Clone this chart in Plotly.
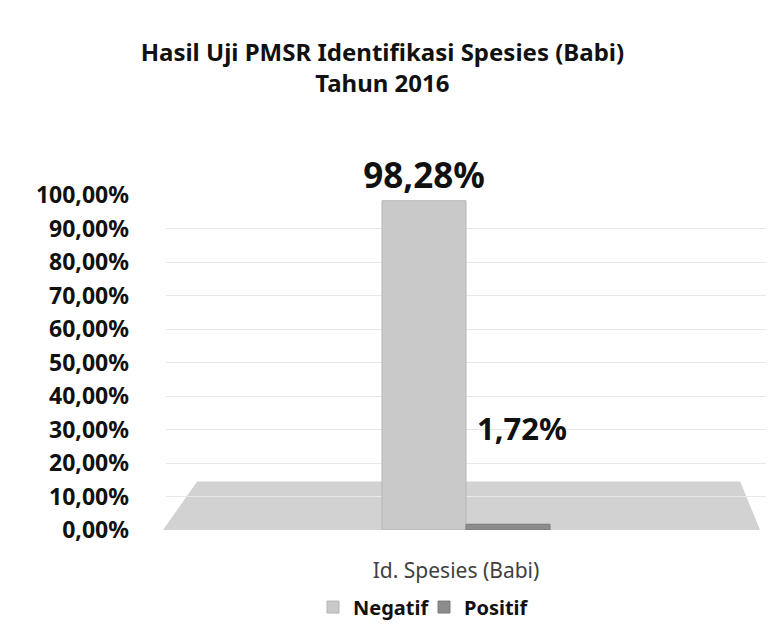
import plotly.graph_objects as go

# data
category = ["Id. Spesies (Babi)"]
negatif = [98.28]
positif = [1.72]
tick_vals = [0, 10, 20, 30, 40, 50, 60, 70, 80, 90, 100]
tick_text = [f"{v:.2f}%".replace(".", ",") for v in tick_vals]

FONT = "Noto Sans"

fig = go.Figure()

fig.add_trace(
    go.Bar(
        x=category,
        y=negatif,
        name="Negatif",
        marker=dict(color="#c9c9c9", line=dict(width=1, color="#b5b5b5")),
        text=[f"{v:.2f}%".replace(".", ",") for v in negatif],
        textposition="outside",
        textfont=dict(family=FONT, size=35, color="#111111", weight="bold"),
        constraintext="none",
        cliponaxis=False,
    )
)

fig.add_trace(
    go.Bar(
        x=category,
        y=positif,
        name="Positif",
        marker=dict(color="#8c8c8c", line=dict(width=1, color="#7a7a7a")),
        cliponaxis=False,
    )
)

# positif label sits above the floor, like in the 3D original
fig.add_annotation(
    x=category[0],
    y=positif[0],
    text=f"{positif[0]:.2f}%".replace(".", ","),
    showarrow=False,
    xshift=56,
    yshift=96,
    font=dict(family=FONT, size=31, color="#111111", weight="bold"),
)

# grey floor of the 3D chart
fig.add_shape(
    type="path",
    xref="paper",
    yref="paper",
    path="M -0.005 0 L 0.052 0.145 L 0.957 0.145 L 0.99 0 Z",
    fillcolor="#d2d2d2",
    line=dict(width=0),
    layer="below",
)

fig.update_layout(
    width=780,
    height=641,
    paper_bgcolor="white",
    plot_bgcolor="white",
    barmode="group",
    bargap=0.72,
    bargroupgap=0,
    margin=dict(l=158, r=22, t=187, b=119),
    title=dict(
        text="Hasil Uji PMSR Identifikasi Spesies (Babi)<br>Tahun 2016",
        x=0.48,
        xanchor="center",
        y=0.918,
        yanchor="top",
        font=dict(family=FONT, size=24, color="#111111", weight="bold"),
    ),
    font=dict(family=FONT, color="#111111"),
    legend=dict(
        orientation="h",
        x=0.245,
        xanchor="left",
        y=-0.23,
        yanchor="middle",
        font=dict(family=FONT, size=20, color="#111111", weight="bold"),
        itemwidth=30,
        entrywidth=66,
    ),
    xaxis=dict(
        showline=False,
        showgrid=False,
        ticklabelstandoff=26,
        ticklabelshift=-10,
        tickfont=dict(family=FONT, size=21, color="#404040"),
    ),
    yaxis=dict(
        range=[0, 100],
        tickvals=tick_vals,
        ticktext=tick_text,
        showgrid=True,
        gridcolor="#e8e8e8",
        zeroline=False,
        showline=False,
        ticklabelstandoff=36,
        tickfont=dict(family=FONT, size=23, color="#111111", weight="bold"),
    ),
)

fig.write_html("out.html")
